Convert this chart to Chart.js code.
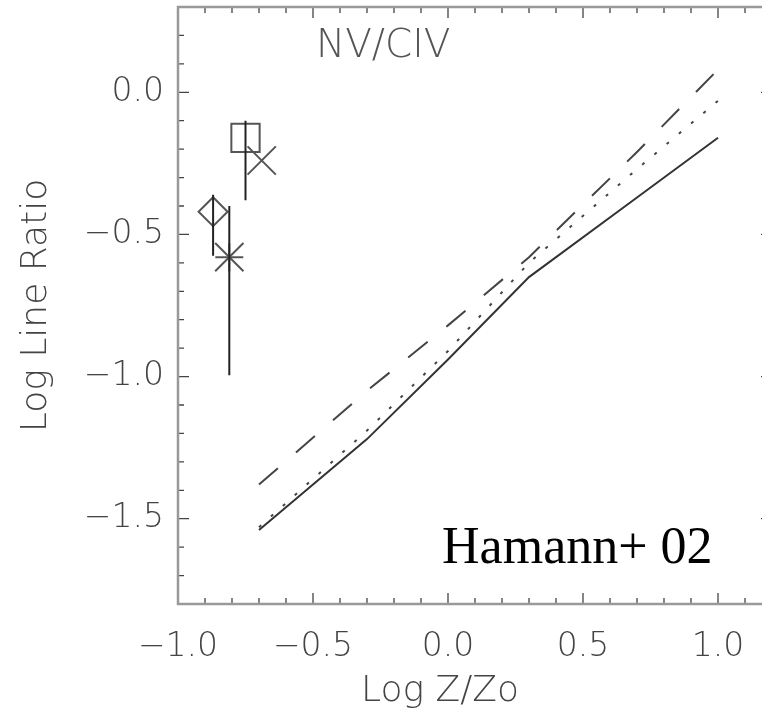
<!DOCTYPE html>
<html>
<head>
<meta charset="utf-8">
<script src="https://cdn.jsdelivr.net/npm/chart.js@4"></script>
<style>
  html, body { margin: 0; padding: 0; background: #fff; overflow: hidden; }
  #wrap { position: absolute; left: 0; top: 0; width: 800px; height: 714px; }
</style>
</head>
<body>
<div id="wrap"><canvas id="chart"></canvas></div>
<script>
// model curves (Hamann+ 02)
const modelZ = [-0.7, -0.3, 0.0, 0.3, 0.7, 1.0];
const solidRatio = [-1.54, -1.22, -0.94, -0.65, -0.37, -0.16];
const dottedRatio = [-1.53, -1.19, -0.91, -0.60, -0.27, -0.03];
const dashedRatio = [-1.38, -1.05, -0.82, -0.58, -0.21, 0.08];

// observed points
const obsZ = [-0.75, -0.69, -0.87, -0.81];
const obsRatio = [-0.16, -0.24, -0.42, -0.58];
const errLow = [-0.38, null, -0.575, -0.995];
const errHigh = [-0.10, null, -0.36, -0.40];

const xLimits = [-1.0, 1.2];
const yLimits = [-1.8, 0.3];

const FONT = "'DejaVu Sans', sans-serif";

function isMajor(v) {
  return Math.abs(v * 2 - Math.round(v * 2)) < 1e-6;
}
function fmt(v) {
  if (!isMajor(v)) return '';
  if (Math.abs(v) < 1e-9) return '0.0';
  return v.toFixed(1).replace('-', '\u2212');
}
function pts(ys) {
  return modelZ.map((z, i) => ({ x: z, y: ys[i] }));
}
function obs(i) {
  return [{ x: obsZ[i], y: obsRatio[i] }];
}

const frameTicks = {
  id: 'frameTicks',
  afterDatasetsDraw(chart) {
    const { ctx, chartArea: a, scales: { x, y } } = chart;
    ctx.save();
    ctx.strokeStyle = '#444';
    ctx.lineWidth = 1.3;
    ctx.beginPath();
    x.ticks.forEach(t => {
      const px = x.getPixelForValue(t.value);
      const len = isMajor(t.value) ? 11 : 6;
      ctx.moveTo(px, a.bottom); ctx.lineTo(px, a.bottom - len);
      ctx.moveTo(px, a.top); ctx.lineTo(px, a.top + len);
    });
    y.ticks.forEach(t => {
      const py = y.getPixelForValue(t.value);
      const len = isMajor(t.value) ? 11 : 6;
      ctx.moveTo(a.left, py); ctx.lineTo(a.left + len, py);
      ctx.moveTo(a.right, py); ctx.lineTo(a.right - len, py);
    });
    ctx.stroke();
    ctx.strokeStyle = '#999';
    ctx.lineWidth = 2.5;
    ctx.strokeRect(a.left, a.top, a.right - a.left, a.bottom - a.top);
    ctx.restore();
  }
};

const errorBars = {
  id: 'errorBars',
  afterDatasetsDraw(chart) {
    const { ctx, scales: { x, y } } = chart;
    ctx.save();
    ctx.strokeStyle = '#222';
    ctx.lineWidth = 2;
    ctx.beginPath();
    obsZ.forEach((z, i) => {
      if (errLow[i] === null) return;
      const px = x.getPixelForValue(z);
      ctx.moveTo(px, y.getPixelForValue(errLow[i]));
      ctx.lineTo(px, y.getPixelForValue(errHigh[i]));
    });
    ctx.stroke();
    ctx.restore();
  }
};

const labels = {
  id: 'labels',
  afterDraw(chart) {
    const { ctx, chartArea: a, scales: { x, y } } = chart;
    ctx.save();
    ctx.fillStyle = '#555';
    ctx.font = '200 39px ' + FONT;
    ctx.textAlign = 'center';
    ctx.textBaseline = 'alphabetic';
    ctx.fillText('NV/CIV', x.getPixelForValue(-0.24), y.getPixelForValue(0.123));

    ctx.fillStyle = '#000';
    ctx.font = "52px 'Liberation Serif', 'Times New Roman', serif";
    ctx.textAlign = 'left';
    ctx.fillText('Hamann+ 02', x.getPixelForValue(-0.022), y.getPixelForValue(-1.657));

    ctx.fillStyle = '#444';
    ctx.font = '200 36px ' + FONT;
    ctx.textAlign = 'center';
    ctx.textBaseline = 'middle';
    ctx.fillText('Log Z/Zo', 440, 692);
    ctx.translate(37, (a.top + a.bottom) / 2);
    ctx.rotate(-Math.PI / 2);
    ctx.fillText('Log Line Ratio', 0, 0);
    ctx.restore();
  }
};

const markerColor = '#555';

new Chart(document.getElementById('chart').getContext('2d'), {
  type: 'scatter',
  data: {
    datasets: [
      { label: 'solid', data: pts(solidRatio), showLine: true, borderColor: '#333', borderWidth: 2, pointRadius: 0 },
      { label: 'dotted', data: pts(dottedRatio), showLine: true, borderColor: '#444', borderWidth: 2, borderDash: [3, 13], pointRadius: 0 },
      { label: 'dashed', data: pts(dashedRatio), showLine: true, borderColor: '#444', borderWidth: 2, borderDash: [25, 24], pointRadius: 0 },
      { label: 'square', data: obs(0), pointStyle: 'rect', pointRadius: 20, borderColor: markerColor, backgroundColor: 'rgba(0,0,0,0)', borderWidth: 2 },
      { label: 'cross', data: obs(1), pointStyle: 'crossRot', pointRadius: 20, borderColor: markerColor, borderWidth: 2 },
      { label: 'diamond', data: obs(2), pointStyle: 'rectRot', pointRadius: 14.5, borderColor: markerColor, backgroundColor: 'rgba(0,0,0,0)', borderWidth: 2 },
      { label: 'asterisk', data: obs(3), pointStyle: 'cross', pointRadius: 14, borderColor: markerColor, borderWidth: 2 },
      { label: 'asterisk2', data: obs(3), pointStyle: 'crossRot', pointRadius: 20, borderColor: markerColor, borderWidth: 2 }
    ]
  },
  options: {
    responsive: true,
    maintainAspectRatio: false,
    animation: false,
    layout: { autoPadding: false, padding: { top: 7, right: 28, left: 0, bottom: 0 } },
    plugins: {
      legend: { display: false },
      tooltip: { enabled: false }
    },
    scales: {
      x: {
        type: 'linear',
        min: xLimits[0],
        max: xLimits[1],
        grid: { display: false, drawTicks: false },
        border: { display: false },
        ticks: {
          stepSize: 0.1,
          autoSkip: false,
          maxRotation: 0,
          padding: 24,
          color: '#444',
          font: { family: FONT, size: 33, weight: 200 },
          callback: v => fmt(v)
        },
        afterFit: s => {
          s.height = 110;
          s.paddingLeft = 0;
          s.paddingRight = 0;
        }
      },
      y: {
        type: 'linear',
        min: yLimits[0],
        max: yLimits[1],
        grid: { display: false, drawTicks: false },
        border: { display: false },
        ticks: {
          stepSize: 0.1,
          autoSkip: false,
          padding: 14,
          color: '#444',
          font: { family: FONT, size: 33, weight: 200 },
          callback: v => fmt(v)
        },
        afterFit: s => {
          s.width = 178;
          s.paddingTop = 0;
          s.paddingBottom = 0;
        }
      }
    }
  },
  plugins: [frameTicks, errorBars, labels]
});
</script>
</body>
</html>
